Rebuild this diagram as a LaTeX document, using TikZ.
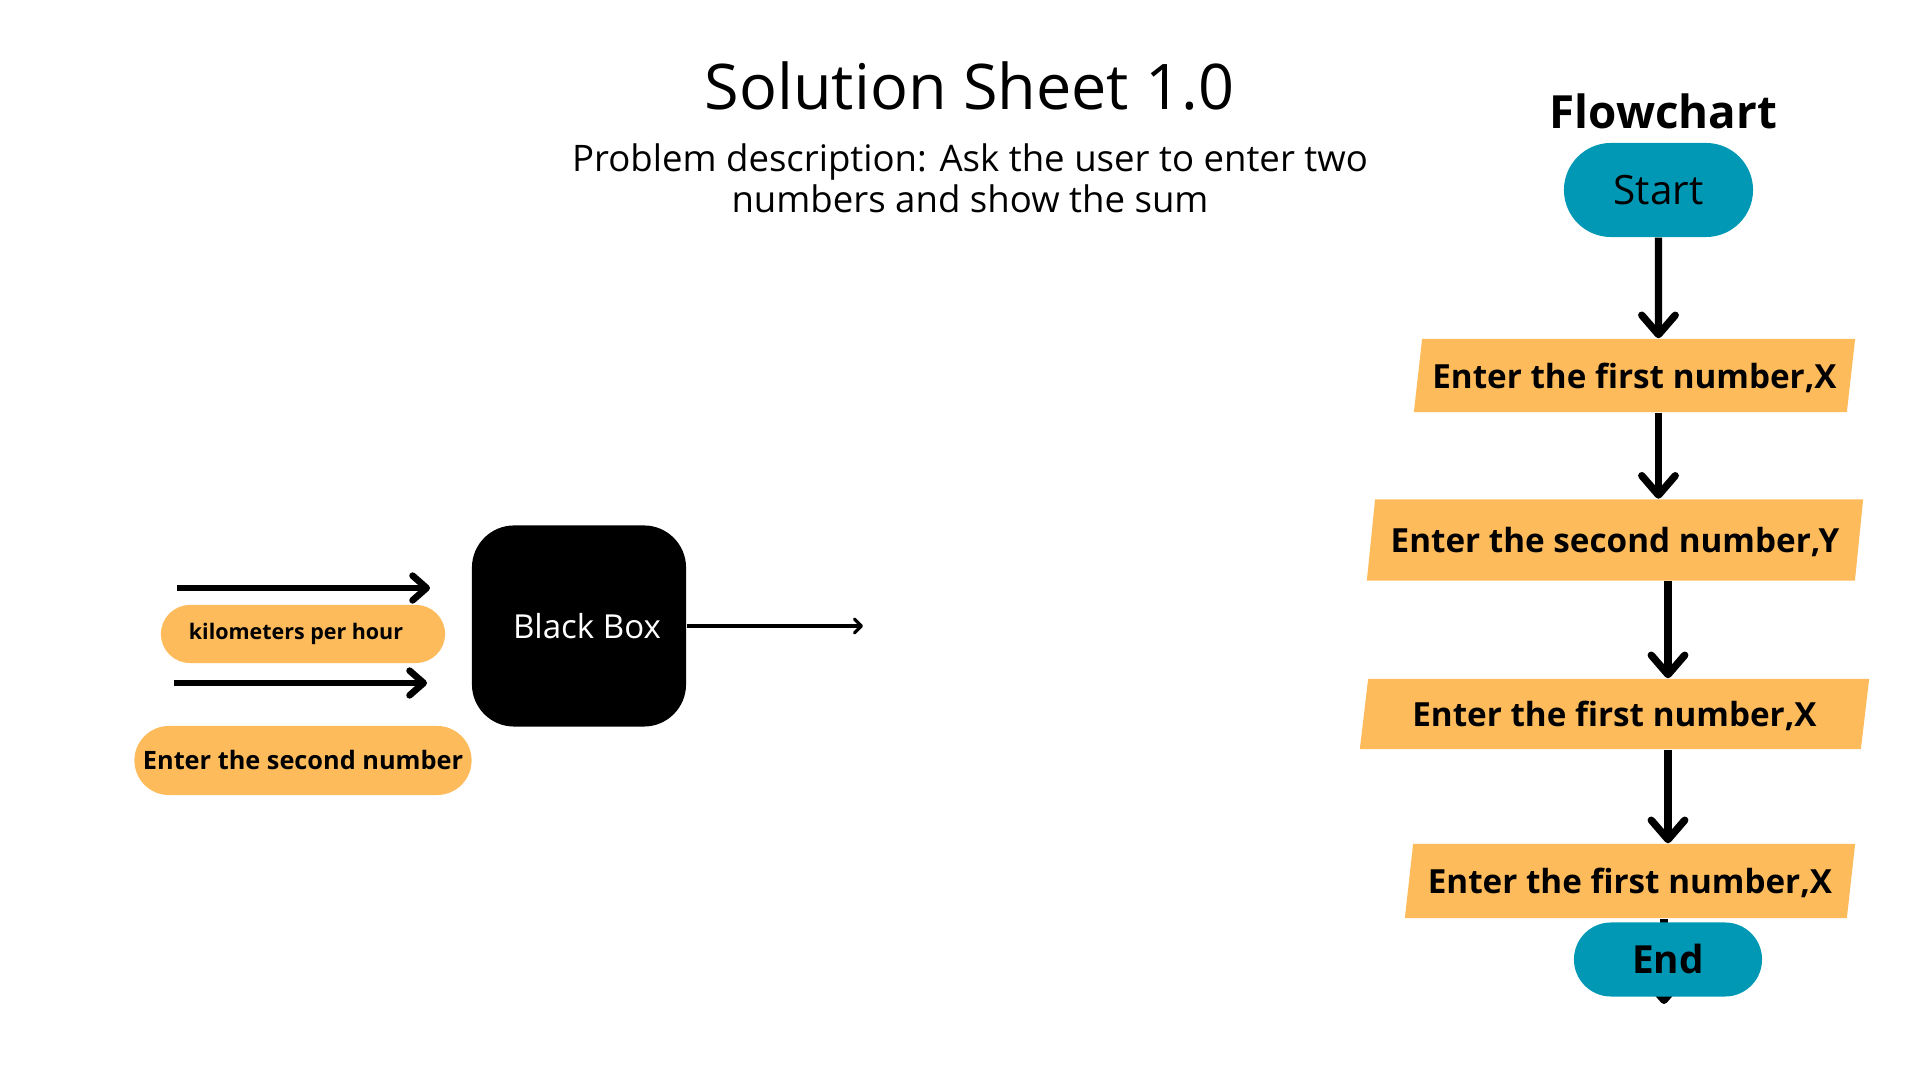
\documentclass[tikz,border=0pt]{standalone}
\usepackage{fontspec}
\setmainfont{Open Sans}
\usepackage{tikz}
\usetikzlibrary{positioning,shapes.geometric,shapes.misc,arrows.meta,backgrounds}
\definecolor{boxorange}{HTML}{FDBB5B}
\definecolor{termteal}{HTML}{0098B4}
\tikzset{
  heading/.style   = {font=\fontsize{17.9}{21}\selectfont, inner sep=0pt},
  problem/.style   = {font=\fontsize{10.4}{11.8}\selectfont, align=center, inner sep=0pt},
  charthdr/.style  = {font=\fontsize{13}{15}\selectfont\bfseries, inner sep=0pt},
  term/.style      = {rounded rectangle, fill=termteal, inner sep=0pt},
  io/.style        = {trapezium, trapezium left angle=72, trapezium right angle=108,
                      trapezium stretches body, fill=boxorange, inner sep=0pt, text depth=0pt,
                      font=\fontsize{9.45}{11}\selectfont\bfseries},
  pill/.style      = {rounded rectangle, fill=boxorange, inner sep=0pt},
  blackbox/.style  = {rectangle, rounded corners=12pt, fill=black, text=white,
                      font=\fontsize{9.4}{11}\selectfont},
  flow/.style      = {-{Straight Barb[length=5.5pt,width=9.5pt,round]}, line width=2.1pt},
  feed/.style      = {-{Straight Barb[length=4pt,width=7pt,round]}, line width=1.9pt},
  outflow/.style   = {-{Straight Barb[length=2pt,width=4pt,round]}, line width=0.9pt},
}
\begin{document}
\begin{tikzpicture}[x=0.01cm,y=-0.01cm]
  \useasboundingbox (0,0) rectangle (1920,1080);

  % titles
  \node[heading, anchor=base] (title) at (969.5,110) {Solution Sheet 1.0};
  \node[problem, anchor=base] (task) at (970,213) {Problem description: Ask the user to enter two\\numbers and show the sum};

  % black box
  \node[blackbox, minimum width=2.14cm, minimum height=2.01cm] (bbox) at (579,626) {\hspace*{0.16cm}Black Box};
  \node[pill, minimum width=2.84cm, minimum height=0.58cm, font=\fontsize{6.1}{7}\selectfont\bfseries] (kmh) at (303,634) {kilometers per hour\hspace*{0.14cm}};
  \node[pill, minimum width=3.37cm, minimum height=0.69cm, font=\fontsize{7.2}{8}\selectfont\bfseries] (second) at (303,760.5) {Enter the second number};
  \coordinate (in1a) at (177,588);
  \coordinate (in1b) at (430,588);
  \coordinate (in2a) at (174,683);
  \coordinate (in2b) at (427,683);
  \coordinate (out) at (863,626);
  \draw[feed] (in1a) -- (in1b);
  \draw[feed] (in2a) -- (in2b);
  \draw[outflow] (bbox.east) -- (out);

  % flowchart
  \node[charthdr, anchor=base] (fchead) at (1663.5,129) {Flowchart};
  \node[term, minimum width=1.89cm, minimum height=0.94cm, font=\fontsize{11.5}{13}\selectfont] (start) at (1658.5,190) {Start};
  \node[io, minimum width=4.41cm, minimum height=0.73cm] (p1) at (1634.5,375.5) {Enter the first number,X};
  \node[io, minimum width=4.96cm, minimum height=0.81cm] (p2) at (1615,540) {Enter the second number,Y};
  \node[io, minimum width=5.09cm, minimum height=0.70cm] (p3) at (1614.5,714) {Enter the first number,X};
  \node[io, minimum width=4.50cm, minimum height=0.74cm] (p4) at (1630,881) {Enter the first number,X};
  \node[term, minimum width=1.88cm, minimum height=0.74cm, font=\fontsize{11}{13}\selectfont\bfseries] (end) at (1668,959.5) {End};
  \coordinate (tail) at (1664,1004);

  \draw[flow] (start) -- (start |- p1.north);
  \draw[flow] (p1.south -| start) -- (start |- p2.north);
  \draw[flow] (p2.south -| end) -- (end |- p3.north);
  \draw[flow] (p3.south -| end) -- (end |- p4.north);
  \begin{scope}[on background layer]
    \draw[flow] (p4.south -| tail) -- (tail);
  \end{scope}
\end{tikzpicture}
\end{document}
